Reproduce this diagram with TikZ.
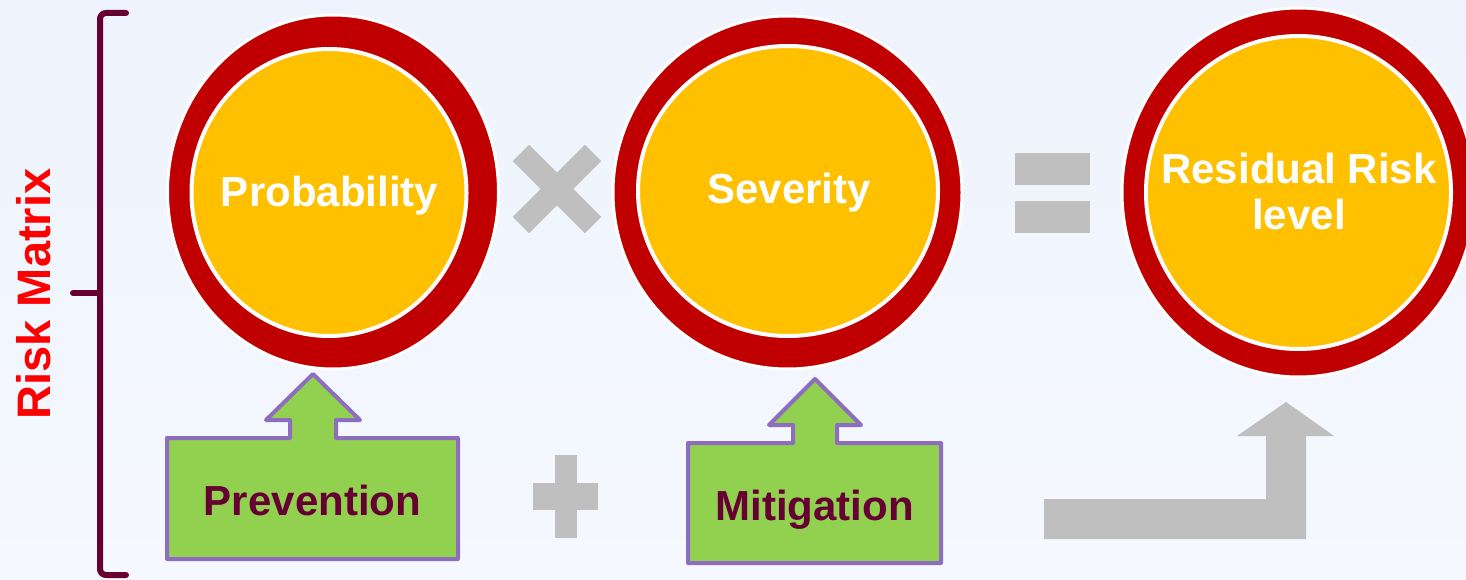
\documentclass[tikz,border=0pt]{standalone}
\usepackage{fontspec}
\setmainfont{Liberation Sans}
\usetikzlibrary{shapes.geometric}
\definecolor{ringred}{HTML}{C00000}
\definecolor{coreyellow}{HTML}{FFC000}
\definecolor{boxgreen}{HTML}{92D050}
\definecolor{boxpurple}{HTML}{8E6CC0}
\definecolor{signgray}{HTML}{BFBFBF}
\definecolor{maroon}{HTML}{660033}
\definecolor{bgtop}{RGB}{238,243,253}
\definecolor{bgbot}{RGB}{245,248,254}
\tikzset{
  ringnode/.style={ellipse, draw=white, line width=3pt, fill=ringred, inner sep=0pt, outer sep=0pt},
  corenode/.style={ellipse, draw=white, line width=4pt, fill=coreyellow, inner sep=0pt, outer sep=0pt},
  circtext/.style={text=white, font=\fontsize{42}{46}\selectfont\bfseries, inner sep=0pt, anchor=base},
  boxtext/.style={text=maroon, font=\fontsize{42}{46}\selectfont\bfseries, inner sep=0pt, anchor=base},
  callout/.style={fill=boxgreen, draw=boxpurple, line width=4pt, line join=round},
  sign/.style={fill=signgray},
  bracestyle/.style={draw=maroon, line width=6pt, line cap=round, line join=round}
}
\begin{document}
\begin{tikzpicture}[x=1pt, y=-1pt]
\useasboundingbox (0,0) rectangle (1466,580);
\shade[top color=bgtop, bottom color=bgbot] (0,0) rectangle (1466,580);
\clip (0,0) rectangle (1466,580);

% brace
\draw[bracestyle] (126,13) -- (106,13) to[out=180,in=90] (100,19) -- (100,569) to[out=-90,in=180] (106,575) -- (126,575);
\draw[bracestyle] (73,293) -- (100,293);
\node[text=red, font=\fontsize{47}{50}\selectfont\bfseries, rotate=90, anchor=base, inner sep=0pt] (rmtext) at (50,294) {Risk Matrix};

% circles
\node[ringnode, minimum width=331pt, minimum height=354pt] (probring) at (333,192) {};
\node[corenode, minimum width=275pt, minimum height=287pt] (probcore) at (329,192.5) {};
\node[circtext] (probtext) at (329.5,206) {Probability};

\node[ringnode, minimum width=349pt, minimum height=353pt] (sevring) at (787.5,192.5) {};
\node[corenode, minimum width=300pt, minimum height=290pt] (sevcore) at (788,191) {};
\node[circtext] (sevtext) at (789,204) {Severity};

\node[ringnode, minimum width=353pt, minimum height=369pt] (resring) at (1298.5,192.5) {};
\node[corenode, minimum width=305pt, minimum height=313pt] (rescore) at (1298.5,192.5) {};
\node[circtext] (restextA) at (1299,183) {Residual Risk};
\node[circtext] (restextB) at (1299,229) {level};

% multiply sign
\begin{scope}[shift={(557,189)}, rotate=45]
  \fill[sign] (-51,-11.5) rectangle (51,11.5);
  \fill[sign] (-11.5,-51) rectangle (11.5,51);
\end{scope}

% equals sign
\fill[sign] (1015,153) rectangle (1090,185);
\fill[sign] (1015,201) rectangle (1090,233);

% plus sign
\fill[sign] (555,455) rectangle (577,538);
\fill[sign] (533,483) rectangle (598,510);

% bent arrow
\fill[sign] (1044,499) -- (1266,499) -- (1266,436) -- (1237,436) -- (1286,402) -- (1334,436) -- (1306,436) -- (1306,539) -- (1044,539) -- cycle;

% Prevention callout
\draw[callout] (167,438) -- (290,438) -- (290,420) -- (266,420) -- (313,374) -- (360,420) -- (336,420) -- (336,438) -- (458,438) -- (458,559) -- (167,559) -- cycle;
\node[boxtext] (prevtext) at (312.5,515) {Prevention};

% Mitigation callout
\draw[callout] (688,443) -- (793,443) -- (793,425) -- (769,425) -- (815,379) -- (861,425) -- (837,425) -- (837,443) -- (941,443) -- (941,563) -- (688,563) -- cycle;
\node[boxtext] (mittext) at (814.5,520) {Mitigation};
\end{tikzpicture}
\end{document}
